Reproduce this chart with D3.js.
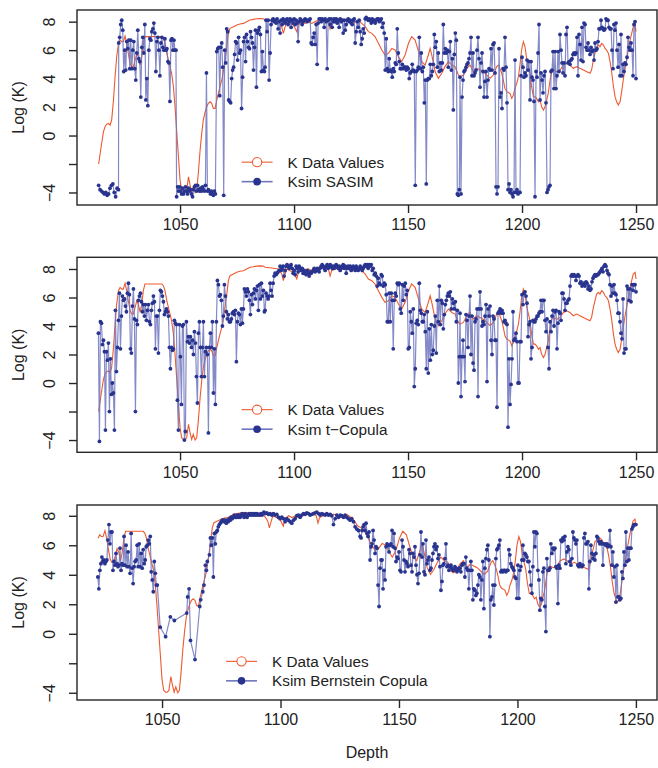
<!DOCTYPE html>
<html>
<head>
<meta charset="utf-8">
<title>Log K simulations vs depth</title>
<style>
  body { margin: 0; background: #fff; }
  svg { font-family: 'Liberation Sans', Arial, Helvetica, sans-serif; }
  .frame { fill: none; stroke: #262626; stroke-width: 1.4; }
  .axis line { stroke: #262626; stroke-width: 1.4; }
  .axis path { display: none; }
  text { fill: #222; }
</style>
</head>
<body>
<svg width="658" height="768"></svg>
<script src="https://d3js.org/d3.v7.min.js"></script>
<script>

// ---------------- data ----------------

// measured log K along the well, [depth, logK]
const kData = [
  [1014.3,-2.0],[1015.6,-0.56],[1016.4,0.26],[1017.1,0.62],[1017.8,0.80],[1018.6,0.85],[1019.3,0.73],[1020.0,1.09],
  [1020.8,2.49],[1021.5,4.13],[1022.2,5.54],[1023.0,6.48],[1023.7,6.71],[1024.4,6.59],[1025.1,6.59],[1025.9,6.99],
  [1026.6,6.48],[1027.3,5.77],[1028.1,5.07],[1028.8,4.84],[1029.5,4.84],[1030.3,5.30],[1031.0,5.77],[1031.7,5.54],
  [1032.5,4.95],[1033.2,5.54],[1033.9,6.48],[1034.6,6.95],[1036.1,6.95],[1039.0,6.95],[1042.0,6.95],[1042.7,6.83],
  [1043.4,6.48],[1044.2,5.77],[1044.9,5.30],[1045.6,4.84],[1046.3,4.37],[1047.1,3.43],[1047.8,2.02],[1048.5,0.38],
  [1049.3,-1.49],[1050.0,-3.13],[1050.7,-3.84],[1051.5,-3.96],[1052.2,-3.96],[1052.9,-3.84],[1053.7,-2.90],[1054.4,-3.49],
  [1055.1,-3.96],[1055.8,-3.60],[1056.6,-4.0],[1057.3,-3.84],[1058.0,-2.67],[1058.8,-1.02],[1059.5,0.15],[1060.2,1.09],
  [1061.0,1.67],[1061.7,2.02],[1062.4,2.26],[1063.2,2.37],[1063.9,2.26],[1064.6,1.91],[1065.4,1.91],[1066.1,2.49],
  [1066.8,2.96],[1067.5,3.43],[1068.3,3.90],[1069.0,4.48],[1069.7,5.30],[1070.5,6.24],[1071.2,7.18],[1071.9,7.53],
  [1073.4,7.65],[1074.9,7.77],[1076.3,7.84],[1077.8,7.88],[1079.2,8.0],[1080.7,8.12],[1082.2,8.16],[1083.6,8.2],
  [1085.1,8.22],[1086.5,8.2],[1087.3,8.12],[1090.2,8.07],[1093.1,8.0],[1094.6,7.65],[1095.3,7.18],[1096.1,7.65],
  [1096.8,8.0],[1098.3,7.88],[1099.7,7.77],[1101.2,7.30],[1101.9,7.77],[1103.4,8.0],[1104.8,7.88],[1106.3,8.0],
  [1107.8,7.88],[1109.2,8.0],[1110.7,8.12],[1112.2,8.16],[1113.6,8.12],[1115.1,8.0],[1115.8,7.5],[1116.5,7.88],
  [1118.0,8.0],[1119.5,8.12],[1120.9,8.0],[1122.4,8.12],[1123.8,8.0],[1125.3,7.88],[1126.8,8.0],[1128.2,8.07],
  [1129.7,7.88],[1131.2,7.65],[1132.6,7.30],[1134.1,7.18],[1135.5,6.95],[1137.0,6.48],[1138.5,6.01],[1139.9,5.66],
  [1141.4,5.77],[1142.9,6.12],[1144.3,6.01],[1145.8,5.54],[1147.2,5.19],[1148.7,5.66],[1150.2,6.48],[1151.6,6.95],
  [1153.1,6.71],[1154.6,5.89],[1156.0,5.19],[1157.5,4.95],[1158.9,5.66],[1159.7,6.12],[1160.4,5.66],[1161.9,4.48],
  [1163.3,4.02],[1164.8,4.37],[1166.2,4.84],[1167.7,5.19],[1169.2,4.95],[1170.6,4.84],[1172.1,4.25],[1172.8,4.13],
  [1174.3,4.25],[1175.7,4.72],[1177.2,4.95],[1178.6,4.48],[1180.1,4.72],[1181.6,4.60],[1183.0,4.48],[1184.5,4.25],
  [1186.0,4.02],[1187.4,4.25],[1188.9,4.84],[1189.6,4.95],[1190.3,4.72],[1191.1,4.37],[1191.8,3.90],[1192.5,3.31],
  [1193.3,3.08],[1194.7,2.96],[1195.5,2.61],[1196.2,2.84],[1196.9,3.31],[1197.7,3.66],[1198.4,4.13],[1199.1,4.95],
  [1199.8,6.01],[1200.6,6.59],[1201.3,6.24],[1202.0,5.42],[1202.8,4.84],[1203.5,4.37],[1204.2,3.43],[1205.0,2.73],
  [1205.7,2.73],[1206.4,2.61],[1207.2,2.37],[1207.9,2.49],[1208.6,2.02],[1209.4,1.79],[1210.1,2.02],[1210.8,2.49],
  [1211.5,2.96],[1212.3,3.90],[1213.0,4.48],[1213.7,4.60],[1215.2,4.48],[1216.7,4.60],[1218.1,4.95],[1219.6,5.07],
  [1221.0,4.95],[1222.5,4.72],[1224.0,4.84],[1225.4,4.72],[1226.9,4.60],[1228.4,4.48],[1229.8,4.37],[1230.5,4.60],
  [1231.3,5.30],[1232.7,6.24],[1233.5,6.36],[1234.2,6.24],[1234.9,6.48],[1235.7,6.36],[1236.4,6.12],[1237.1,6.01],
  [1237.9,5.77],[1238.6,5.19],[1239.3,4.48],[1240.1,3.43],[1240.8,2.73],[1241.5,2.37],[1242.2,2.14],[1243.0,2.37],
  [1243.7,3.08],[1244.4,3.90],[1245.2,4.72],[1245.9,5.30],[1246.6,6.01],[1247.4,6.71],[1248.1,7.18],[1248.8,7.65],
  [1249.6,7.77],[1250.0,7.30]
];

// SASIM simulation, values on evenly spaced samples within each depth span
const sasimSpans = [[1014.3, 1023.0], [1023.1, 1048.2], [1048.5, 1065.5], [1066.1, 1087.0], [1087.3, 1172.5], [1172.8, 1250.0]];
const sasimA1 = [-3.5,-3.8,-3.9,-4.0,-4.1,-4.0,-4.2,-4.1,-3.7,-3.5,-3.4,-4.0,-4.3,-3.7,-3.8];
const sasimA2 = [6.5,6.9,7.8,8.1,7.4,4.5,6.0,4.6,6.6,6.1,6.7,4.7,6.7,4.7,6.0,6.6,4.7,3.9,5.8,7.4,5.4,5.2,2.7,6.2,6.9,5.8,7.8,2.5,4.0,2.1,
  6.0,6.8,6.7,7.3,7.5,7.9,7.2,4.5,6.6,6.9,6.0,4.2,6.5,6.9,6.2,6.0,6.8,6.0,6.1,5.2,5.1,2.4,6.7,6.8,6.0,6.7,6.0,6.0];
const sasimA3 = [-4.3,-3.6,-3.9,-3.6,-3.9,-4.1,-3.7,-4.1,-3.9,-3.6,-3.9,-4.1,-3.7,-3.9,-3.8,-4.1,-4.3,-3.8,-3.6,-3.5,
  -3.9,-3.5,-3.8,-3.9,-3.7,-3.9,-3.6,-3.8,-3.9,-3.5,4.4,-3.9,-3.8,-3.9,-4.1,-3.9,-4.1,-4.2,-3.9,-4.1];
const sasimA4 = [5.9,6.1,6.2,2.8,6.2,6.5,4.8,-4.2,6.0,5.1,7.5,7.3,2.5,2.4,2.3,4.0,4.6,4.8,5.7,6.6,6.5,5.3,6.9,5.8,6.0,
  1.9,4.1,6.6,6.9,5.2,7.1,6.6,6.2,6.1,7.3,6.9,6.5,4.6,6.2,7.4,3.4,7.2,7.4,7.6,7.1,4.5,5.9,4.6,4.5];
const sasimB = [4.8,8.1,7.3,8.1,3.9,5.8,7.8,8.1,8.2,8.0,8.1,7.9,8.2,7.5,8.0,7.2,8.1,7.8,8.2,8.0,
  7.9,8.1,8.2,7.8,8.0,8.2,7.6,8.1,7.9,8.2,7.8,8.1,7.9,6.6,8.0,8.2,8.1,7.8,8.0,8.1,
  8.2,8.1,8.0,8.1,8.1,8.2,6.5,6.4,6.9,7.2,6.4,7.8,5.0,7.9,8.2,8.2,8.0,8.2,8.1,7.6,
  8.2,8.0,4.7,8.1,8.2,7.8,8.2,7.6,8.0,8.2,8.0,8.2,7.9,8.1,7.6,8.2,8.0,8.1,7.2,8.1,
  7.4,7.8,8.1,8.2,8.0,8.1,7.9,7.8,8.1,8.2,6.5,7.3,8.0,7.6,8.1,7.3,6.4,6.8,7.5,7.2,
  8.2,8.3,8.2,8.1,8.2,8.1,7.9,8.2,8.0,8.1,7.9,8.1,8.2,8.2,8.0,8.1,8.2,7.6,7.9,7.2,
  4.6,6.8,4.7,4.5,5.4,4.6,4.5,4.1,4.7,4.5,5.1,5.0,7.5,5.8,5.2,4.7,4.7,5.0,4.7,4.8,
  4.8,4.6,4.8,4.7,4.0,4.4,4.5,5.0,4.6,4.5,-3.5,4.5,4.6,4.8,6.9,4.7,5.8,4.5,4.8,2.3,
  3.9,-3.4,3.9,4.0,4.0,5.0,4.2,4.5,5.0,7.1,6.2,6.6,4.8,5.8,4.5,5.1,4.6,5.1,7.8,5.8,
  6.1,5.8,6.0,4.8,5.9,6.6,4.6,5.4,1.8,5.7,7.2,6.7,-4.1,-4.2,-3.8];
const sasimC = [4.1,-4.1,2.7,3.9,4.5,4.6,4.8,5.0,5.1,5.4,5.8,6.9,4.2,5.8,4.2,4.4,4.6,6.0,6.9,5.4,
  3.4,5.1,5.8,4.5,2.7,3.8,4.5,2.7,3.9,4.7,4.6,6.1,4.6,6.4,6.5,4.4,-3.6,-4.1,-3.6,6.1,
  2.7,3.0,1.9,4.7,4.6,6.9,4.8,2.3,-3.8,-3.4,-4.0,-3.8,-4.1,-4.3,-4.0,5.3,-4.0,-3.8,-4.1,-4.0,
  -4.0,4.2,5.5,4.8,4.1,4.4,4.2,5.3,4.6,5.2,2.5,5.2,4.1,3.9,2.4,-4.3,4.5,4.1,5.8,7.8,
  2.5,4.4,3.9,3.0,4.2,4.5,2.3,-4.0,-3.8,-3.6,-3.5,4.5,4.6,5.9,3.3,5.9,3.3,4.2,5.9,4.5,
  7.1,6.0,5.1,4.4,5.1,4.2,7.1,7.6,5.1,5.2,5.0,5.3,5.4,5.7,5.8,5.7,5.8,6.9,4.2,7.1,
  6.4,5.3,7.6,5.2,7.9,7.8,6.2,6.0,6.5,6.0,5.7,6.2,5.9,6.0,5.3,6.5,6.0,6.1,6.6,7.5,
  7.5,8.1,7.6,7.5,7.4,7.5,8.2,8.1,8.1,7.6,7.5,7.5,6.0,4.7,7.8,7.4,7.9,6.0,4.8,6.4,
  4.2,7.1,4.2,5.0,4.5,5.1,5.0,5.5,6.9,6.2,6.0,6.5,6.0,4.2,7.8,8.0,4.0];

// t-Copula simulation
const copulaSpans = [[1014.2, 1087.0], [1087.3, 1172.5], [1172.8, 1250.0]];
const copulaA = [3.5,-4.1,4.3,4.2,2.7,3.0,2.2,-3.3,2.2,1.6,2.8,-2.0,1.7,-0.8,0.0,-0.7,-3.3,5.1,0.8,2.5,
  4.4,6.3,2.4,4.7,6.1,5.8,5.9,5.4,5.0,6.3,7.0,6.2,2.4,2.1,5.4,6.6,4.5,-2.0,4.4,4.1,
  5.8,6.1,6.3,5.7,5.0,5.5,4.7,5.5,4.4,5.1,5.5,4.3,4.1,5.1,5.6,6.1,5.7,2.4,4.7,4.7,
  2.1,5.1,6.5,6.4,6.1,5.7,4.8,5.0,5.2,5.0,4.7,2.5,1.0,2.5,2.3,2.4,4.4,4.2,4.1,-1.2,
  -3.3,4.1,1.85,-1.5,4.0,4.1,-4.0,-3.4,4.3,2.9,3.25,2.8,3.25,2.5,3.0,2.0,3.6,2.8,0.45,-1.4,
  3.5,4.3,2.5,0.45,2.5,4.3,0.45,2.2,2.5,2.0,-3.5,2.5,3.5,2.5,4.3,-0.7,2.4,-1.5,4.3,7.2,
  6.9,6.1,6.2,5.8,4.0,4.7,6.9,6.1,5.0,4.5,4.8,4.3,4.3,4.5,4.9,5.0,4.8,5.1,1.5,4.3,
  4.9,4.8,4.1,5.2,4.2,5.2,6.6,6.4,6.1,6.6,6.4,5.8,4.8,6.2,5.5,6.3,6.6,5.9,6.5,6.8,
  5.1,6.9,5.9,7.0,6.1,6.5,5.0];
const copulaB = [5.1,6.3,6.1,5.9,6.1,7.0,6.5,6.1,7.0,7.5,7.7,7.6,7.7,7.8,7.9,8.2,7.9,8.05,8.2,7.5,
  7.9,8.2,8.3,8.2,8.05,8.2,8.3,8.05,7.7,7.9,7.6,8.2,8.05,7.8,8.2,8.05,7.9,8.05,7.7,7.9,
  7.7,7.6,7.9,7.7,7.5,7.8,7.7,7.8,7.9,8.05,7.8,7.9,8.05,7.9,7.8,8.05,8.2,8.3,8.2,8.05,
  7.9,8.2,8.3,8.05,8.2,8.3,8.2,8.05,8.2,8.05,8.2,8.3,8.2,8.05,8.2,7.9,8.05,8.2,8.3,8.05,
  8.2,7.7,8.05,8.2,8.05,8.2,7.9,8.05,8.2,8.05,7.9,8.2,8.05,7.9,8.05,8.2,8.05,7.9,8.05,8.2,
  8.3,8.2,8.3,8.05,8.3,8.2,8.3,7.9,8.05,7.6,7.7,7.5,6.8,7.35,7.0,6.9,7.6,7.5,6.8,7.0,
  6.9,6.2,4.3,4.3,6.3,4.3,6.3,5.8,2.4,5.8,6.3,6.1,7.0,6.9,7.0,5.2,4.9,6.9,5.8,6.8,
  7.0,6.2,6.5,2.4,2.5,5.0,4.3,3.5,5.2,-0.25,1.0,4.2,4.4,4.1,7.0,5.1,4.9,4.3,4.3,4.8,
  3.6,1.0,5.0,0.7,3.8,1.6,4.1,2.0,2.3,4.0,4.7,2.1,5.8,4.3,6.8,4.1,5.8,5.6,3.8,4.8,
  5.5,5.8,6.1,6.3,6.1,6.4,5.2,5.9,5.6,5.2,5.7,4.3,5.1,0.0,1.85];
const copulaC = [4.9,-0.95,1.85,3.0,1.85,0.1,4.8,4.4,2.5,4.7,6.1,2.0,4.7,1.4,0.9,4.3,4.5,5.2,-0.95,5.2,
  6.4,5.2,4.0,4.3,4.1,4.7,5.5,0.1,5.2,4.7,5.4,3.0,2.0,4.7,4.5,3.0,3.0,-1.7,4.9,5.0,
  5.2,4.9,5.1,4.9,4.3,4.4,4.2,4.1,-3.1,1.7,-1.5,-0.1,1.7,5.0,3.0,3.1,3.5,2.9,0.0,0.0,
  2.9,2.9,6.2,5.5,6.3,6.4,6.1,5.6,3.25,4.1,4.3,1.7,2.5,4.4,4.3,4.3,4.5,4.7,4.7,4.9,
  5.0,5.8,5.0,5.8,5.8,4.4,3.6,4.5,2.5,1.0,4.3,3.6,4.7,5.1,4.0,5.0,5.1,2.4,4.2,5.0,
  4.9,4.4,6.3,6.3,5.9,5.1,5.6,5.6,5.8,5.9,6.8,7.5,7.6,7.5,7.6,7.5,7.2,7.5,7.6,7.5,
  7.0,7.1,6.8,6.9,7.0,6.8,7.1,7.0,6.6,6.8,6.5,6.6,7.1,7.35,7.5,7.6,7.5,7.6,7.6,7.7,
  7.8,7.9,8.05,7.8,8.2,8.3,8.2,7.9,7.7,7.6,6.9,6.1,6.8,6.3,6.9,6.3,6.2,5.8,4.9,4.9,
  4.3,3.5,3.1,5.9,2.1,2.4,2.4,6.8,6.6,5.8,6.6,5.7,6.9,6.5,6.9,6.9,6.4];

// Bernstein copula simulation (sparse samples in the low-K zone)
const bernSpans = [[1022.9, 1048.0], [1070.4, 1093.0], [1093.5, 1133.6], [1134.0, 1175.3], [1175.7, 1250.0]];
const bernA = [3.85,3.05,4.3,4.75,5.2,4.9,5.0,4.75,4.9,5.0,6.35,7.4,6.1,6.9,6.9,4.3,4.9,4.65,5.45,4.75,
  4.55,4.65,5.8,4.3,4.75,4.65,6.6,4.65,6.0,4.55,5.55,4.55,4.1,6.8,4.45,3.4,4.55,4.9,5.0,6.0,
  4.55,6.1,4.55,5.45,4.45,5.7,4.75,5.0,5.9,6.0,6.35,6.1,6.6,4.2,3.65,2.85,4.9,4.1,3.3,3.3];
const bernSparse = [[1049.2,0.45],[1051.5,-0.2],[1053.5,1.15],[1055.2,0.9],[1060.4,1.4],[1060.8,2.5],[1061.4,3.05],
  [1062.0,-0.45],[1063.9,-1.75],[1065.9,1.85],[1066.3,2.3],[1067.2,2.85],[1067.7,3.3],[1068.3,4.65],[1068.7,4.3],
  [1069.1,4.9],[1070.0,5.35]];
const bernB = [6.5,6.0,6.5,3.85,6.8,6.1,6.9,7.0,7.25,7.4,7.5,7.6,7.7,7.7,7.6,7.7,7.5,7.7,7.6,7.8,
  7.7,7.9,7.8,7.9,8.05,7.9,7.9,8.05,7.9,8.05,7.9,8.05,8.15,8.05,7.9,8.15,8.05,7.9,8.05,8.15,
  8.05,8.15,8.05,8.15,8.05,8.15,8.05,8.15,8.05,8.1,8.05,8.15,8.05,8.15,8.25];
const bernC1 = [8.15,8.2,8.1,8.15,8.05,8.15,8.05,8.1,7.9,7.8,7.9,7.8,7.6,7.8,7.7,7.6,7.5,7.7,7.8,8.0,
  8.05,7.9,8.05,8.15,8.1,8.2,8.15,8.05,8.1,8.15,8.2,8.25,8.15,8.05,8.15,8.1,8.05,8.15,8.05,8.1,
  8.0,7.4,7.8,8.05,7.9,8.05,8.0,7.9,8.05,7.9,7.8,7.7,7.8,7.6,7.25,7.1,7.0,6.6];
const bernC2 = [6.5,7.0,7.25,7.4,7.0,7.5,6.8,6.6,6.9,5.0,5.9,6.1,7.0,6.35,5.45,5.9,5.8,3.3,1.85,4.45,
  5.0,5.0,3.05,4.3,3.65,5.9,6.1,6.0,5.55,6.0,6.1,7.0,5.9,6.8,5.8,4.9,5.2,5.1,5.55,4.3,
  4.2,6.35,5.9,5.0,4.2,4.9,4.75,4.55,5.7,5.45,4.65,4.2,5.45,5.2,5.9,4.65,4.0,3.4,4.1,5.35,
  6.9,5.2,6.1,4.2,4.0,6.35,4.75,5.0,5.2,4.3,4.45,5.0,5.45,5.9,6.1,5.7,5.9,5.1,5.35,4.55,
  2.95,3.55,4.65,4.75,5.1,6.1,4.55,4.65,4.3,4.55,4.65,4.45,4.3,4.3,4.55,4.45,4.2,4.3,4.45];
const bernD = [4.45,4.2,4.65,4.75,4.75,3.85,5.2,4.45,4.3,3.05,4.3,4.9,4.3,2.3,3.05,2.95,2.6,2.75,3.3,4.0,
  3.85,2.3,3.65,4.9,1.7,4.45,5.1,5.7,6.0,5.0,-0.2,2.3,2.5,3.3,1.95,3.3,5.1,5.7,5.8,6.0,
  6.35,4.2,4.3,4.2,4.3,4.3,4.2,4.3,4.3,5.7,5.35,4.75,4.55,4.45,4.3,3.85,3.75,2.4,4.65,2.4,
  4.3,4.55,5.0,6.0,5.0,5.45,5.35,5.2,4.9,4.9,4.2,3.3,2.75,4.55,6.9,5.9,6.9,6.8,4.3,3.65,
  1.6,2.4,2.3,4.2,4.45,1.85,0.15,5.1,4.3,4.3,4.45,6.1,5.45,5.8,5.7,5.8,4.55,4.45,2.05,4.65,
  4.45,6.35,6.25,6.5,6.35,6.6,4.75,5.55,5.9,5.7,4.9,4.65,5.1,6.9,6.5,6.35,6.1,6.35,4.65,4.55,
  4.75,4.65,4.55,4.65,6.5,6.8,6.1,6.1,6.25,3.05,4.9,6.0,5.45,5.1,5.35,5.0,5.45,6.6,6.5,6.25,
  6.1,6.25,6.1,4.65,6.1,6.1,6.0,6.1,5.9,6.0,7.0,5.9,4.65,5.55,3.85,4.55,2.15,4.65,2.5,2.5,
  2.3,2.4,4.2,3.75,5.55,4.65,6.9,4.9,5.8,5.0,5.8,5.8,7.1,7.25,7.4,7.4,7.4];

const xTicks = [1050, 1100, 1150, 1200, 1250];
const yTicks = [8, 6, 4, 2, 0, -2, -4];
const yTickLabels = ["8", "6", "4", "2", "0", "", "−4"];
const seriesNames = ["K Data Values", "Ksim SASIM", "Ksim t−Copula", "Ksim Bernstein Copula"];

// ---------------- helpers ----------------

// spread each run of samples evenly over its depth span
function runsToPoints(spans, runs) {
  return runs.flatMap((vals, r) => {
    const pos = d3.scaleLinear().domain([0, vals.length - 1]).range(spans[r]);
    return vals.map((v, i) => ({ depth: pos(i), logK: v }));
  });
}

const pairsToPoints = pairs => pairs.map(([d, v]) => ({ depth: d, logK: v }));

const sasimPoints = runsToPoints(sasimSpans, [sasimA1, sasimA2, sasimA3, sasimA4, sasimB, sasimC]);
const copulaPoints = runsToPoints(copulaSpans, [copulaA, copulaB, copulaC]);
const bernPoints = runsToPoints(bernSpans, [bernA, bernB, bernC1, bernC2, bernD])
  .concat(pairsToPoints(bernSparse))
  .sort((a, b) => a.depth - b.depth);
const kPoints = pairsToPoints(kData);

// ---------------- layout ----------------

const svg = d3.select("svg");
const left = 77, right = 657, panelH = 195;
const red = "#EE5A30";
const blueDot = "#29348F";
const blueLine = "#6E76BD";
const tickFont = 16, legendFont = 15.3;

const panels = [
  { top: 10, sim: sasimPoints, name: seriesNames[1], xDomain: [1004.8, 1259.2], yDomain: [-4.88, 8.82], kFrom: 1014 },
  { top: 257.3, sim: copulaPoints, name: seriesNames[2], xDomain: [1004.8, 1259.2], yDomain: [-4.86, 8.82], kFrom: 1014 },
  { top: 505, sim: bernPoints, name: seriesNames[3], xDomain: [1014.1, 1258.9], yDomain: [-4.49, 8.73], kFrom: 1022.8 }
];

panels.forEach(p => {
  const x = d3.scaleLinear().domain(p.xDomain).range([left, right]);
  const y = d3.scaleLinear().domain(p.yDomain).range([p.top + panelH, p.top]);
  const g = svg.append("g");

  const line = d3.line().x(d => x(d.depth)).y(d => y(d.logK));

  // measured K
  g.append("path")
    .datum(kPoints.filter(d => d.depth >= p.kFrom))
    .attr("d", line)
    .attr("fill", "none")
    .attr("stroke", red)
    .attr("stroke-width", 1.1);

  // simulation: line + dots
  g.append("path")
    .datum(p.sim)
    .attr("d", line)
    .attr("fill", "none")
    .attr("stroke", blueLine)
    .attr("stroke-width", 1.2)
    .attr("stroke-opacity", 0.85);

  g.selectAll("circle.sim")
    .data(p.sim)
    .join("circle")
    .attr("class", "sim")
    .attr("cx", d => x(d.depth))
    .attr("cy", d => y(d.logK))
    .attr("r", 1.9)
    .attr("fill", blueDot);

  // frame
  g.append("rect")
    .attr("class", "frame")
    .attr("x", left).attr("y", p.top)
    .attr("width", right - left).attr("height", panelH);

  // x axis
  g.append("g")
    .attr("class", "axis")
    .attr("transform", `translate(0,${p.top + panelH})`)
    .call(d3.axisBottom(x).tickValues(xTicks).tickSize(8).tickPadding(6).tickFormat(d3.format("d")))
    .call(a => a.selectAll("text").attr("font-size", tickFont).attr("fill", "#222"));

  // y axis, labels parallel to the axis
  const ya = g.append("g")
    .attr("class", "axis")
    .attr("transform", `translate(${left},0)`)
    .call(d3.axisLeft(y).tickValues(yTicks).tickSize(8).tickFormat(""));
  ya.selectAll(".tick").append("text")
    .attr("transform", "translate(-28,0) rotate(-90)")
    .attr("text-anchor", "middle")
    .attr("dy", "0.35em")
    .attr("font-size", tickFont)
    .attr("fill", "#222")
    .text((d, i) => yTickLabels[i]);

  g.append("text")
    .attr("transform", `translate(18,${p.top + panelH / 2}) rotate(-90)`)
    .attr("text-anchor", "middle")
    .attr("dy", "0.35em")
    .attr("font-size", tickFont)
    .text("Log (K)");

  // legend
  const lx = x(1077);
  const ly = y(-1.87);
  const lg = g.append("g").attr("transform", `translate(${lx},${ly})`);

  lg.append("line").attr("x1", 0).attr("x2", 31).attr("y1", 0).attr("y2", 0)
    .attr("stroke", red).attr("stroke-width", 1.1);
  lg.append("circle").attr("cx", 15.5).attr("cy", 0).attr("r", 4.6)
    .attr("fill", "#fff").attr("stroke", red).attr("stroke-width", 1.1);
  lg.append("text").attr("x", 46).attr("y", 0).attr("dy", "0.35em")
    .attr("font-size", legendFont).text(seriesNames[0]);

  lg.append("line").attr("x1", 0).attr("x2", 31).attr("y1", 19.5).attr("y2", 19.5)
    .attr("stroke", blueLine).attr("stroke-width", 1.6);
  lg.append("circle").attr("cx", 15.5).attr("cy", 19.5).attr("r", 3.8)
    .attr("fill", blueDot);
  lg.append("text").attr("x", 46).attr("y", 19.5).attr("dy", "0.35em")
    .attr("font-size", legendFont).text(p.name);
});

svg.append("text")
  .attr("x", (left + right) / 2)
  .attr("y", 758)
  .attr("text-anchor", "middle")
  .attr("font-size", tickFont)
  .text("Depth");

</script>
</body>
</html>
